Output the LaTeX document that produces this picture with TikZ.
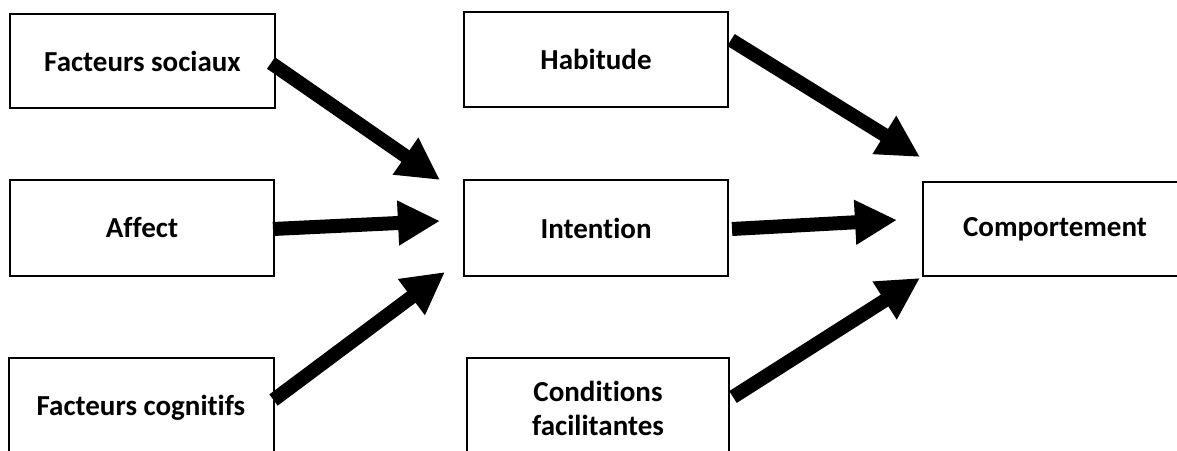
\documentclass[tikz,border=0pt]{standalone}
\usepackage{fontspec}
\setmainfont{Carlito}[Ligatures={NoCommon,NoContextual}]
\usetikzlibrary{arrows.meta,calc}
\tikzset{
  txt/.style={font=\bfseries\fontsize{29}{34}\selectfont},
  box/.style={txt, draw=black, line width=2pt, fill=white, inner sep=0pt, align=center},
  bigarrow/.style={line width=14pt, draw=black,
    -{Triangle[length=42pt,width=42pt]}}
}
\begin{document}
\begin{tikzpicture}[x=1pt,y=-1pt]
\useasboundingbox (0,0) rectangle (1177,450);
\clip (0,0) rectangle (1177,450);
\node[box, minimum width=265pt, minimum height=94pt] (fs) at (142.5,61) {Facteurs sociaux};
\node[box, minimum width=264pt, minimum height=96pt] (af) at (142,228) {Affect};
\node[box, minimum width=265pt, minimum height=100pt] (fc) at (141,408) {Facteurs cognitifs};
\node[box, minimum width=264pt, minimum height=95pt] (hab) at (596,59.5) {Habitude};
\node[box, minimum width=264pt, minimum height=96pt] (int) at (596,228) {Intention};
\node[box, minimum width=262pt, minimum height=100pt] (cf) at (598,408) {Conditions\\facilitantes};
\node[box, minimum width=277pt, minimum height=94pt] (comp) at (1061.5,229) {};
\node[txt] (comptext) at (1055,229) {Comportement};
% tip coordinates
\coordinate (t1) at (440,180);
\coordinate (t2) at (440,221);
\coordinate (t3) at (445,272);
\coordinate (t4) at (920,157);
\coordinate (t5) at (897,220);
\coordinate (t6) at (920,278);
\draw[bigarrow] ($(fs.east)+(-5,2)$) -- (t1);
\draw[bigarrow] ($(af.east)+(-2,1)$) -- (t2);
\draw[bigarrow] ($(fc.east)+(-1,-8)$) -- (t3);
\draw[bigarrow] ($(hab.east)+(2,-19.5)$) -- (t4);
\draw[bigarrow] ($(int.east)+(3,1)$) -- (t5);
\draw[bigarrow] ($(cf.east)+(3,-11)$) -- (t6);
\end{tikzpicture}
\end{document}
